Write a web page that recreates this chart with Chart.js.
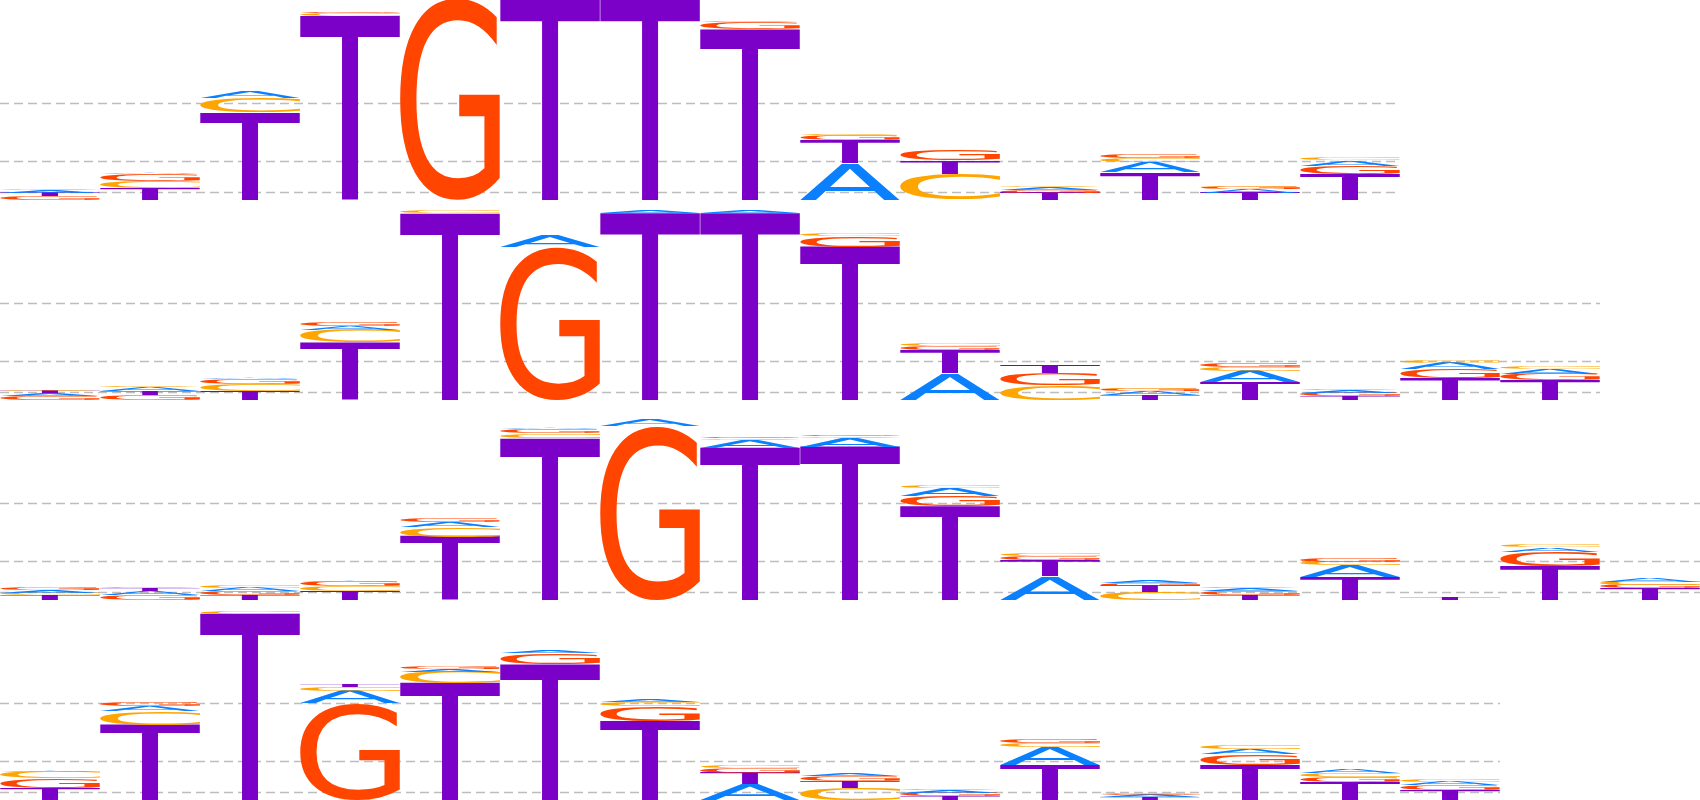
<!DOCTYPE html>
<html>
<head>
<meta charset="utf-8">
<script src="https://cdn.jsdelivr.net/npm/chart.js@4.4.1/dist/chart.umd.min.js"></script>
<style>
  html, body { margin: 0; padding: 0; background: #fff; }
  #wrap { position: relative; width: 1700px; height: 800px; overflow: hidden; }
  #wrap canvas { position: absolute; left: 0; }
</style>
</head>
<body>
<div id="wrap">
  <canvas id="logo1" width="1700" height="200" style="top:0px"></canvas>
  <canvas id="logo2" width="1700" height="200" style="top:200px"></canvas>
  <canvas id="logo3" width="1700" height="200" style="top:400px"></canvas>
  <canvas id="logo4" width="1700" height="200" style="top:600px"></canvas>
</div>
<script>
// positions shared by all four motifs
const positions = ['1','2','3','4','5','6','7','8','9','10','11','12','13','14','15','16','17'];
// dashed reference levels (bits)
const gridLevels = [0.973, 0.393, 0.083];

// letter heights (bits) per position, motif 1
const a1 = [0.025, 0.013, 0.067, 0.005, 0, 0, 0, 0.005, 0.367, 0.005, 0.028, 0.107, 0.033, 0.055];
const c1 = [0.012, 0.072, 0.150, 0.030, 0, 0, 0, 0.010, 0.010, 0.260, 0.018, 0.036, 0.018, 0.020];
const g1 = [0.040, 0.070, 0.004, 0.010, 2.02, 0, 0, 0.073, 0.050, 0.107, 0.030, 0.034, 0.022, 0.085];
const t1 = [0.033, 0.120, 0.873, 1.840, 0, 2.02, 2.02, 1.707, 0.230, 0.133, 0.073, 0.277, 0.073, 0.255];

// motif 2
const a2 = [0.027, 0.033, 0.013, 0.041, 0.005, 0.120, 0.020, 0.020, 0.005, 0.267, 0.005, 0.043, 0.110, 0.027, 0.060, 0.050];
const c2 = [0.012, 0.013, 0.067, 0.127, 0.020, 0.005, 0, 0, 0.020, 0.027, 0.150, 0.017, 0.033, 0.010, 0.020, 0.030];
const g2 = [0.040, 0.053, 0.053, 0.039, 0.005, 1.530, 0, 0, 0.110, 0.040, 0.117, 0.020, 0.032, 0.033, 0.090, 0.060];
const t2 = [0.023, 0.040, 0.093, 0.573, 1.865, 0, 1.870, 1.870, 1.530, 0.233, 0.083, 0.050, 0.183, 0.040, 0.220, 0.200];

// motif 3
const a3 = [0.026, 0.040, 0.033, 0.013, 0.047, 0.010, 0.060, 0.080, 0.090, 0.077, 0.240, 0.026, 0.027, 0.117, 0.003, 0.043, 0.032];
const c3 = [0.027, 0.013, 0.020, 0.048, 0.100, 0.045, 0.005, 0.015, 0.015, 0.023, 0.027, 0.083, 0.013, 0.034, 0.005, 0.023, 0.033];
const g3 = [0.020, 0.053, 0.040, 0.047, 0.040, 0.040, 1.740, 0.010, 0.010, 0.107, 0.040, 0.027, 0.043, 0.033, 0.005, 0.150, 0.034];
const t3 = [0.047, 0.027, 0.047, 0.087, 0.633, 1.620, 0, 1.520, 1.530, 0.933, 0.160, 0.057, 0.050, 0.233, 0.023, 0.333, 0.117];

// motif 4
const a4 = [0.010, 0.050, 0, 0.127, 0.027, 0.023, 0.027, 0.160, 0.020, 0.027, 0.183, 0.020, 0.053, 0.035, 0.033];
const c4 = [0.060, 0.140, 0.027, 0.034, 0.117, 0, 0.043, 0.023, 0.117, 0.013, 0.034, 0.010, 0.040, 0.040, 0.020];
const g4 = [0.100, 0.033, 0, 0.967, 0.020, 0.107, 0.150, 0.047, 0.057, 0.033, 0.033, 0.015, 0.110, 0.050, 0.050];
const t4 = [0.117, 0.750, 1.860, 0.027, 1.167, 1.360, 0.790, 0.113, 0.067, 0.040, 0.350, 0.027, 0.350, 0.183, 0.100];

const letterColors = { A: '#0A80FF', C: '#FFA500', G: '#FF4500', T: '#7B00C8' };

// turn per-letter arrays into stacked datasets, tallest letter at the bottom
function buildDatasets(a, c, g, t) {
    const sets = [0, 1, 2, 3].map(() => ({
        data: positions.map(() => null),
        letters: positions.map(() => ''),
        backgroundColor: 'rgba(0,0,0,0)',
        borderWidth: 0
    }));
    for (let i = 0; i < a.length; i++) {
        const col = [['A', a[i]], ['C', c[i]], ['G', g[i]], ['T', t[i]]];
        col.sort((p, q) => q[1] - p[1]);
        col.forEach((entry, k) => {
            sets[k].data[i] = entry[1];
            sets[k].letters[i] = entry[0];
        });
    }
    return sets;
}

function drawLetter(ctx, ch, color, left, top, w, h) {
    if (h < 0.25 || w <= 0) return;
    ctx.save();
    ctx.font = '200px "DejaVu Sans"';
    ctx.textAlign = 'left';
    ctx.textBaseline = 'alphabetic';
    const m = ctx.measureText(ch);
    const gw = m.actualBoundingBoxLeft + m.actualBoundingBoxRight;
    const gh = m.actualBoundingBoxAscent + m.actualBoundingBoxDescent;
    ctx.translate(left, top);
    ctx.scale(w / gw, h / gh);
    ctx.fillStyle = color;
    ctx.fillText(ch, m.actualBoundingBoxLeft, m.actualBoundingBoxAscent);
    ctx.restore();
}

const logoPlugin = {
    id: 'logoLetters',
    beforeDatasetsDraw(chart, args, opts) {
        const ctx = chart.ctx;
        const x = chart.scales.x, y = chart.scales.y;
        const half = (x.getPixelForValue(1) - x.getPixelForValue(0)) / 2;
        const right = x.getPixelForValue(opts.count - 1) + half;
        ctx.save();
        ctx.strokeStyle = '#BDBDBD';
        ctx.lineWidth = 1.5;
        ctx.setLineDash([9, 5]);
        gridLevels.forEach(v => {
            const py = Math.round(y.getPixelForValue(v)) + 0.5;
            ctx.beginPath();
            ctx.moveTo(chart.chartArea.left, py);
            ctx.lineTo(right, py);
            ctx.stroke();
        });
        ctx.restore();
    },
    afterDatasetsDraw(chart) {
        const ctx = chart.ctx;
        chart.data.datasets.forEach((ds, di) => {
            const meta = chart.getDatasetMeta(di);
            meta.data.forEach((bar, i) => {
                const v = ds.data[i];
                if (!v) return;
                const p = bar.getProps(['x', 'y', 'base', 'width'], true);
                const ch = ds.letters[i];
                drawLetter(ctx, ch, letterColors[ch], p.x - p.width / 2, p.y, p.width, p.base - p.y);
            });
        });
    }
};

function makeLogo(id, a, c, g, t) {
    return new Chart(document.getElementById(id), {
        type: 'bar',
        data: { labels: positions, datasets: buildDatasets(a, c, g, t) },
        options: {
            responsive: false,
            animation: false,
            devicePixelRatio: 1,
            layout: { padding: 0 },
            datasets: { bar: { barPercentage: 1, categoryPercentage: 1 } },
            scales: {
                x: { stacked: true, display: false },
                y: { stacked: true, display: false, min: 0, max: 2 }
            },
            plugins: {
                legend: { display: false },
                tooltip: { enabled: false },
                logoLetters: { count: a.length }
            }
        },
        plugins: [logoPlugin]
    });
}

makeLogo('logo1', a1, c1, g1, t1);
makeLogo('logo2', a2, c2, g2, t2);
makeLogo('logo3', a3, c3, g3, t3);
makeLogo('logo4', a4, c4, g4, t4);
</script>
</body>
</html>
